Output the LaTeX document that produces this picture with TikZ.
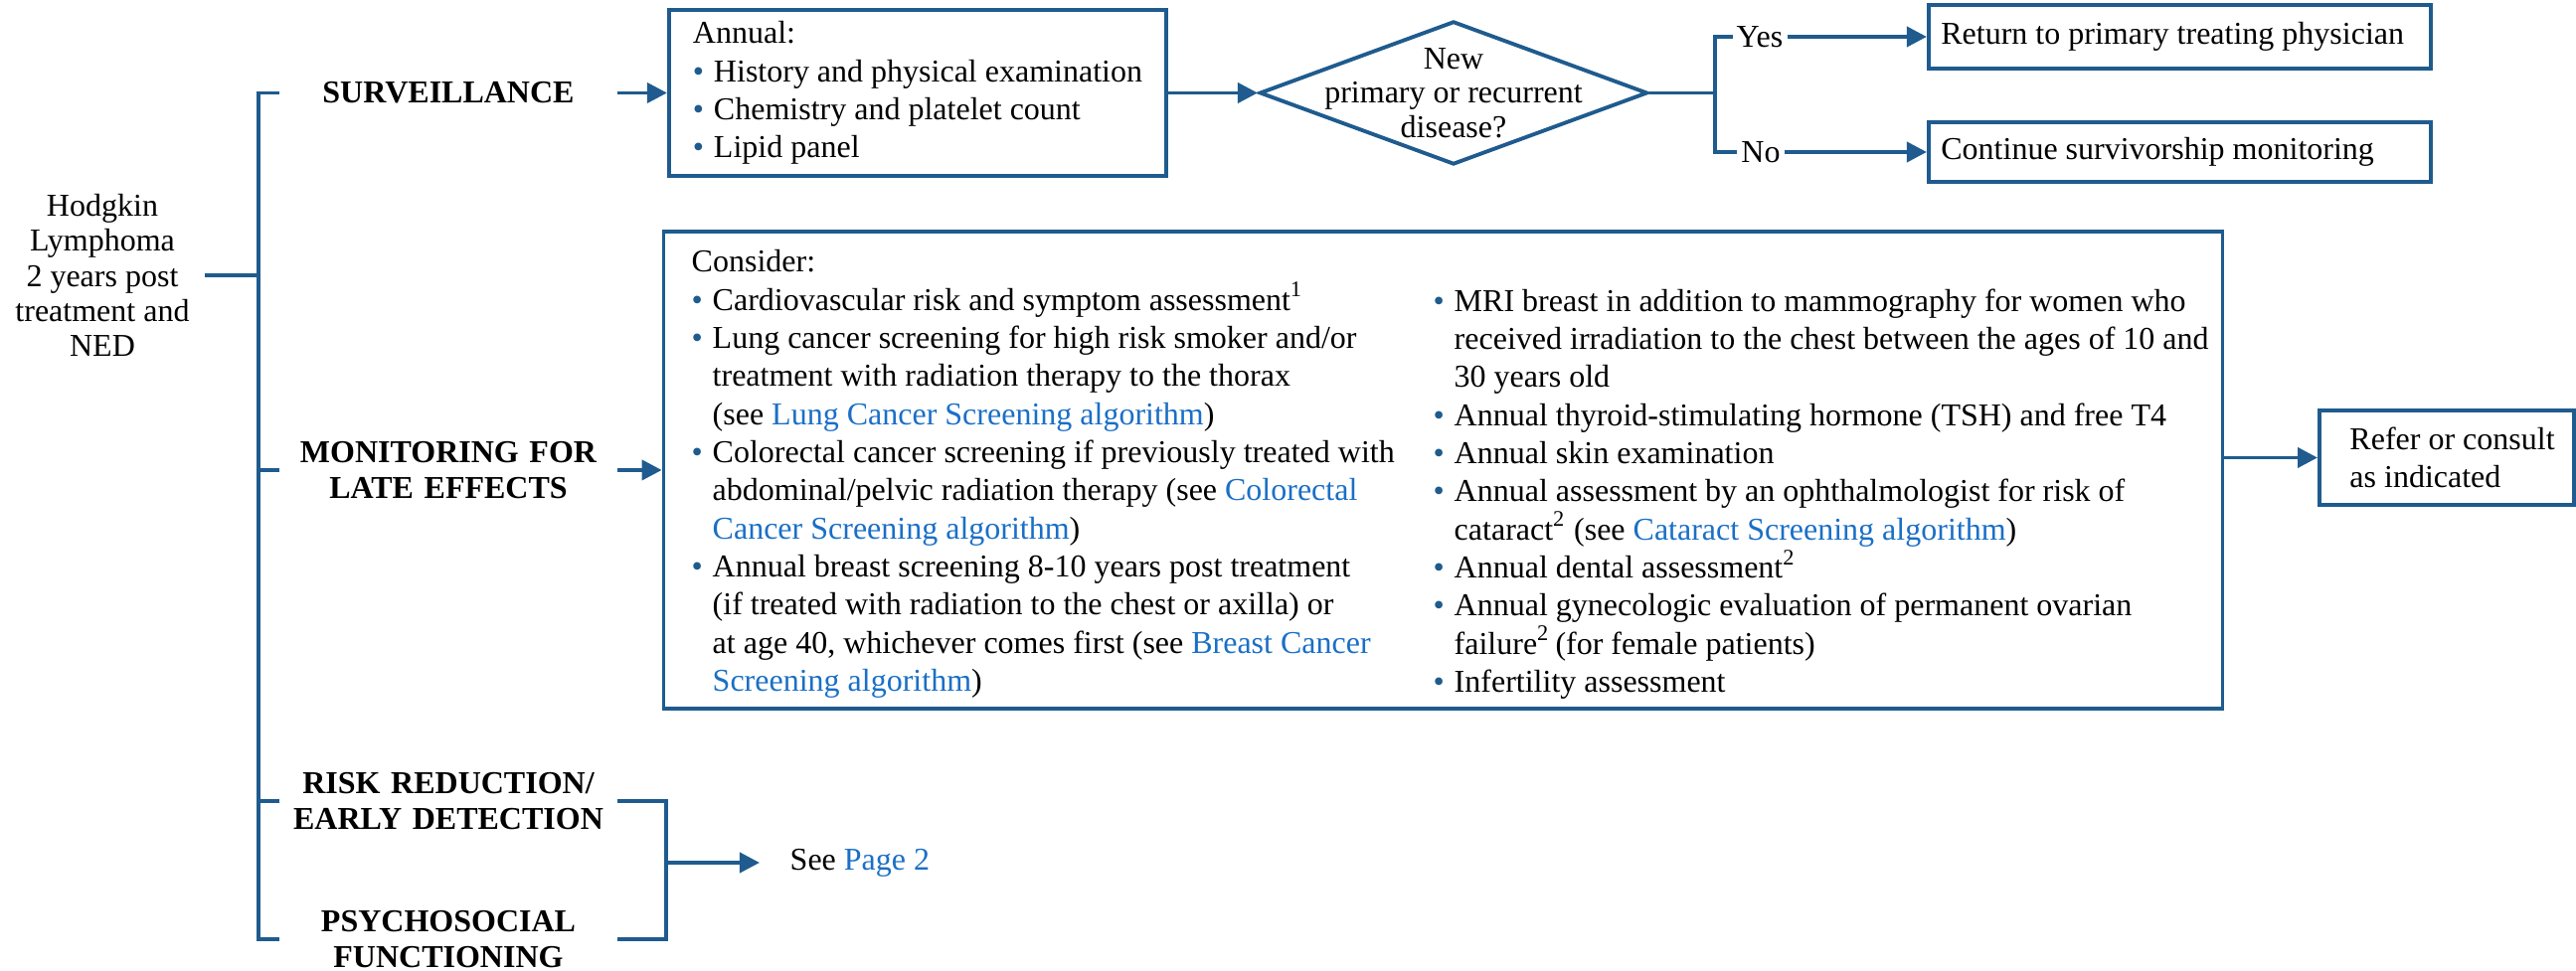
\documentclass[tikz,border=0pt]{standalone}
\usepackage{fontspec}
\setmainfont{Liberation Serif}
\usepackage{tikz}
\usetikzlibrary{positioning, arrows.meta, shapes.geometric}

\definecolor{nccnblue}{HTML}{1F5B8E}
\definecolor{linkblue}{HTML}{1A6FC6}

\newcommand{\bul}{\makebox[0.21cm][l]{\textcolor{nccnblue}{\textbullet}}}
\newcommand{\ind}{\hspace*{0.21cm}}
\newcommand{\lnk}[1]{\textcolor{linkblue}{#1}}

\tikzset{
  link/.style={draw=nccnblue, line width=1.1pt},
  arr/.style={link, -{Triangle[length=0.2cm, width=0.2cm]}},
  box/.style={draw=nccnblue, line width=1.1pt, align=left},
  branch/.style={font=\bfseries\fontsize{9.1}{10.2}\selectfont, align=center, text width=3.3cm, inner xsep=0.04cm},
}

\begin{document}
\begin{tikzpicture}[x=0.01cm, y=-0.01cm, font=\fontsize{9.1}{10.9}\selectfont]
\useasboundingbox (0,0) rectangle (2591,977);

% start and branches
\node (hl) [align=center, inner xsep=0.15cm, font=\fontsize{9.1}{10}\selectfont] at (103,277) {Hodgkin\\Lymphoma\\2 years post\\treatment and\\NED};
\coordinate (trunk) at (260,277);

\node (surv) [branch] at (451,93.5) {SURVEILLANCE};
\node (mon)  [branch] at (451,473) {MONITORING FOR\\LATE EFFECTS};
\node (risk) [branch] at (451,806) {RISK REDUCTION/\\EARLY DETECTION};
\node (psy)  [branch] at (451,945) {PSYCHOSOCIAL\\FUNCTIONING};

% surveillance
\node (annual) [box, minimum width=5cm, minimum height=1.59cm] at (923,93.5) {Annual:\\\bul History and physical examination\\\bul Chemistry and platelet count\\\bul Lipid panel};
\node (decq) [diamond, draw=nccnblue, line width=1.1pt, minimum width=3.9cm, minimum height=1.44cm, inner sep=0pt] at (1462,93.5) {};
\node (decqtxt) [align=center, font=\fontsize{9.1}{9.8}\selectfont] at (decq.center) {New\\primary or recurrent\\disease?};
\coordinate (split) at (1725,93.5);
\node (yes) [inner sep=1pt] at (1770,37) {Yes};
\node (no)  [inner sep=1pt] at (1771,153) {No};
\node (ret)  [box, inner xsep=0.125cm, minimum height=0.64cm] at (2192.5,37) {\makebox[4.8cm][l]{Return to primary treating physician}};
\node (cont) [box, inner xsep=0.125cm, minimum height=0.6cm] at (2192.5,153) {\makebox[4.8cm][l]{Continue survivorship monitoring}};

% late effects
\node (late) [box, minimum width=15.67cm, minimum height=4.8cm] at (1451.5,473) {};
\node (latel) [anchor=north west, align=left, inner sep=0pt] at (695,251) {Consider:\\
\bul Cardiovascular risk and symptom assessment\textsuperscript{1}\\
\bul Lung cancer screening for high risk smoker and/or\\
\ind treatment with radiation therapy to the thorax\\
\ind (see \lnk{Lung Cancer Screening algorithm})\\
\bul Colorectal cancer screening if previously treated with\\
\ind abdominal/pelvic radiation therapy (see \lnk{Colorectal}\\
\ind \lnk{Cancer Screening algorithm})\\
\bul Annual breast screening 8-10 years post treatment\\
\ind (if treated with radiation to the chest or axilla) or\\
\ind at age 40, whichever comes first (see \lnk{Breast Cancer}\\
\ind \lnk{Screening algorithm})};
\node (later) [anchor=north west, align=left, inner sep=0pt] at (1441,290) {\bul MRI breast in addition to mammography for women who\\
\ind received irradiation to the chest between the ages of 10 and\\
\ind 30 years old\\
\bul Annual thyroid-stimulating hormone (TSH) and free T4\\
\bul Annual skin examination\\
\bul Annual assessment by an ophthalmologist for risk of\\
\ind cataract\textsuperscript{2} (see \lnk{Cataract Screening algorithm})\\
\bul Annual dental assessment\textsuperscript{2}\\
\bul Annual gynecologic evaluation of permanent ovarian\\
\ind failure\textsuperscript{2}\,(for female patients)\\
\bul Infertility assessment};
\node (refer) [box, minimum width=2.56cm, minimum height=0.95cm] at (2461,460.5) {\makebox[1.95cm][l]{Refer or consult}\\as indicated};

% page 2
\coordinate (brk) at (670,868);
\node (seep) [anchor=west, inner xsep=0.3cm] at (764,868) {See \lnk{Page 2}};

% connectors
\draw[link] (hl.east) -- (trunk);
\draw[link] (surv.west) -| (trunk);
\draw[link] (psy.west) -| (trunk);
\draw[link] (mon.west) -- (mon.west -| trunk);
\draw[link] (risk.west) -- (risk.west -| trunk);
\draw[arr] (surv.east) -- (annual.west);
\draw[arr] (annual.east) -- (decq.west);
\draw[link] (decq.east) -- (split);
\draw[link] (split) |- (yes.west);
\draw[link] (split) |- (no.west);
\draw[arr] (yes.east) -- (ret.west);
\draw[arr] (no.east) -- (cont.west);
\draw[arr] (mon.east) -- (late.west);
\draw[arr] (late.east |- refer.west) -- (refer.west);
\draw[link] (risk.east) -| (brk);
\draw[link] (psy.east) -| (brk);
\draw[arr] (brk) -- (seep.west);
\end{tikzpicture}
\end{document}
